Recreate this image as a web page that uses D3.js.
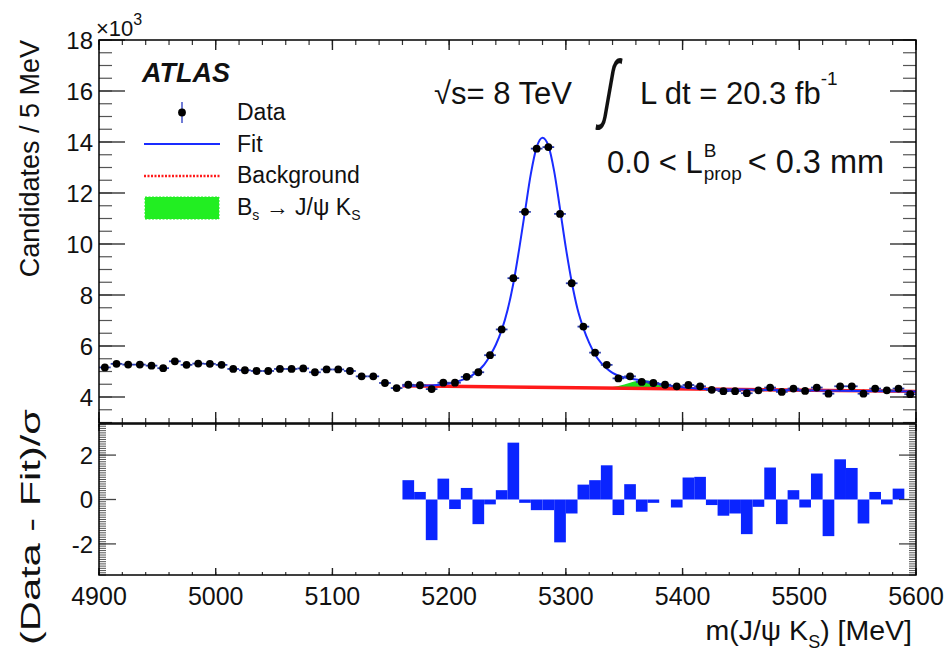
<!DOCTYPE html>
<html>
<head>
<meta charset="utf-8">
<script src="https://cdn.jsdelivr.net/npm/d3@7"></script>
<style>
  body { margin: 0; background: #fff; }
  svg text { font-family: "Liberation Sans", Arial, Helvetica, sans-serif; fill: #111; }
</style>
</head>
<body>
<svg id="chart" width="950" height="659"></svg>
<script>
// ---- data -------------------------------------------------------------
// bin centres of m(J/psi K_S) [MeV]
const massBins = [
  4905, 4915, 4925, 4935, 4945, 4955, 4965, 4975, 4985, 4995,
  5005, 5015, 5025, 5035, 5045, 5055, 5065, 5075, 5085, 5095,
  5105, 5115, 5125, 5135, 5145, 5155, 5165, 5175, 5185, 5195,
  5205, 5215, 5225, 5235, 5245, 5255, 5265, 5275, 5285, 5295,
  5305, 5315, 5325, 5335, 5345, 5355, 5365, 5375, 5385, 5395,
  5405, 5415, 5425, 5435, 5445, 5455, 5465, 5475, 5485, 5495,
  5505, 5515, 5525, 5535, 5545, 5555, 5565, 5575, 5585, 5595
];
// candidates per bin [x10^3]
const candidates = [
  5.16, 5.30, 5.27, 5.27, 5.23, 5.13, 5.40, 5.26, 5.31, 5.30,
  5.26, 5.10, 5.05, 5.02, 5.02, 5.10, 5.10, 5.12, 4.97, 5.08,
  5.08, 5.02, 4.81, 4.81, 4.55, 4.35, 4.48, 4.46, 4.31, 4.56,
  4.56, 4.79, 4.97, 5.64, 6.65, 8.66, 11.26, 13.74, 13.80, 11.18,
  8.46, 6.76, 5.74, 5.26, 4.73, 4.81, 4.59, 4.55, 4.48, 4.42,
  4.47, 4.42, 4.28, 4.23, 4.23, 4.15, 4.26, 4.37, 4.20, 4.33,
  4.24, 4.37, 4.13, 4.42, 4.42, 4.13, 4.33, 4.26, 4.33, 4.11
];
const binHalfWidth = 5;

// pulls (Data - Fit)/sigma, 10 MeV bins starting at these lower edges
const pullEdges = [
  5160, 5170, 5180, 5190, 5200, 5210, 5220, 5230, 5240, 5250,
  5260, 5270, 5280, 5290, 5300, 5310, 5320, 5330, 5340, 5350,
  5360, 5370, 5380, 5390, 5400, 5410, 5420, 5430, 5440, 5450,
  5460, 5470, 5480, 5490, 5500, 5510, 5520, 5530, 5540, 5550,
  5560, 5570, 5580, 5590
];
const pulls = [
  0.87, 0.34, -1.83, 0.94, -0.43, 0.52, -1.11, -0.22, 0.42, 2.56,
  -0.15, -0.48, -0.48, -1.93, -0.63, 0.67, 0.87, 1.54, -0.70, 0.69,
  -0.55, -0.15, 0.00, -0.36, 0.99, 1.02, -0.25, -0.73, -0.63, -1.56,
  -0.33, 1.44, -1.11, 0.42, -0.36, 1.17, -1.65, 1.81, 1.42, -1.08,
  0.34, -0.22, 0.49, 0.00
];

// total fit curve [x10^3]
const fitMass = [
  5160, 5170, 5180, 5190, 5200, 5210, 5220, 5230, 5235, 5240,
  5245, 5250, 5255, 5260, 5265, 5270, 5275, 5280, 5285, 5290,
  5295, 5300, 5305, 5310, 5315, 5320, 5325, 5330, 5335, 5340,
  5345, 5350, 5360, 5370, 5380, 5390, 5400, 5410, 5420, 5450,
  5500, 5550, 5600
];
const fitValue = [
  4.44, 4.44, 4.45, 4.47, 4.53, 4.65, 4.86, 5.27, 5.62, 6.05,
  6.62, 7.40, 8.45, 9.80, 11.28, 12.75, 13.80, 14.17, 13.86, 12.85,
  11.38, 9.85, 8.52, 7.45, 6.70, 6.12, 5.67, 5.35, 5.12, 4.95,
  4.84, 4.77, 4.69, 4.60, 4.51, 4.44, 4.38, 4.34, 4.31, 4.29,
  4.26, 4.24, 4.22
];

// combinatorial background [x10^3]
const bkgMass = [5160, 5600];
const bkgValue = [4.44, 4.22];

// B_s -> J/psi K_S component on top of the background [x10^3]
const bsMass = [5335, 5345, 5355, 5362, 5367, 5372, 5380, 5390, 5400];
const bsValue = [0.00, 0.08, 0.22, 0.30, 0.32, 0.30, 0.20, 0.08, 0.00];

// axis ticks
const xTickValues = [4900, 5000, 5100, 5200, 5300, 5400, 5500, 5600];
const yTopTickValues = [4, 6, 8, 10, 12, 14, 16, 18];
const yBotTickValues = [-2, 0, 2];

// ---- layout -----------------------------------------------------------
const svg = d3.select("#chart");
const L = 99, R = 916;
const topT = 40, topB = 423;
const botT = 424, botB = 575;

const x = d3.scaleLinear().domain([4900, 5600]).range([L, R]);
const yTop = d3.scaleLinear().domain([3, 18]).range([topB - 0.5, topT]);
const yBot = d3.scaleLinear().domain([-3.4, 3.4]).range([botB, botT]);

const gTop = svg.append("g");
const gBot = svg.append("g");

// ---- tick helpers -----------------------------------------------------
function hTicks(g, vals, yPos, len, color, width) {
  g.selectAll(null).data(vals).enter().append("line")
    .attr("x1", d => x(d)).attr("x2", d => x(d))
    .attr("y1", yPos).attr("y2", yPos + len)
    .attr("stroke", color).attr("stroke-width", width);
}
function vTicks(g, scale, vals, xPos, len, color, width) {
  g.selectAll(null).data(vals).enter().append("line")
    .attr("x1", xPos).attr("x2", xPos + len)
    .attr("y1", d => scale(d)).attr("y2", d => scale(d))
    .attr("stroke", color).attr("stroke-width", width);
}

const xMinor = d3.range(4900, 5600.1, 20);
const yTopMinor = d3.range(3, 18.01, 0.5);
const yBotMinor = d3.range(-3.4, 3.41, 0.1);

// ---- top panel --------------------------------------------------------
vTicks(gTop, yTop, yTopMinor, L, 13, "#555", 1.2);
vTicks(gTop, yTop, yTopTickValues, L, 26, "#333", 1.4);
vTicks(gTop, yTop, yTopMinor, R, -13, "#555", 1.2);
vTicks(gTop, yTop, yTopTickValues, R, -26, "#333", 1.4);
hTicks(gTop, xMinor, topT, 5, "#333", 1.2);
hTicks(gTop, xTickValues, topT, 10, "#222", 1.4);
hTicks(gTop, xMinor, topB, -5, "#333", 1.2);
hTicks(gTop, xTickValues, topB, -11, "#222", 1.4);

// B_s component
const bkgAt = m => d3.scaleLinear().domain(bkgMass).range(bkgValue)(m);
gTop.append("path")
  .datum(bsMass.map((m, i) => ({ m, v: bsValue[i] })))
  .attr("fill", "#1fe01f")
  .attr("d", d3.area()
    .x(d => x(d.m))
    .y0(d => yTop(bkgAt(d.m)))
    .y1(d => yTop(bkgAt(d.m) + d.v))
    .curve(d3.curveMonotoneX));

// background
gTop.append("path")
  .datum(bkgMass.map((m, i) => ({ m, v: bkgValue[i] })))
  .attr("fill", "none").attr("stroke", "#ff1a1a").attr("stroke-width", 3.4)
  .attr("d", d3.line().x(d => x(d.m)).y(d => yTop(d.v)));

// total fit
gTop.append("path")
  .datum(fitMass.map((m, i) => ({ m, v: fitValue[i] })))
  .attr("fill", "none").attr("stroke", "#1a2cff").attr("stroke-width", 2)
  .attr("d", d3.line().x(d => x(d.m)).y(d => yTop(d.v)).curve(d3.curveMonotoneX));

// data points with bin-width and statistical error bars
const pts = massBins.map((m, i) => ({ m, v: candidates[i], e: Math.sqrt(candidates[i] * 1000) / 1000 }));
gTop.selectAll(".hbar").data(pts).enter().append("line")
  .attr("x1", d => x(d.m - binHalfWidth)).attr("x2", d => x(d.m + binHalfWidth))
  .attr("y1", d => yTop(d.v)).attr("y2", d => yTop(d.v))
  .attr("stroke", "#2a3cb0").attr("stroke-width", 1.8);
gTop.selectAll(".vbar").data(pts).enter().append("line")
  .attr("x1", d => x(d.m)).attr("x2", d => x(d.m))
  .attr("y1", d => yTop(d.v - d.e)).attr("y2", d => yTop(d.v + d.e))
  .attr("stroke", "#111").attr("stroke-width", 1.5);
gTop.selectAll(".dot").data(pts).enter().append("circle")
  .attr("cx", d => x(d.m)).attr("cy", d => yTop(d.v)).attr("r", 3.9)
  .attr("fill", "#000");

gTop.append("rect").attr("x", L).attr("y", topT).attr("width", R - L).attr("height", topB - topT)
  .attr("fill", "none").attr("stroke", "#000").attr("stroke-width", 1.5);

// y tick labels
gTop.selectAll(".ylab").data(yTopTickValues).enter().append("text")
  .attr("x", L - 6).attr("y", d => yTop(d)).attr("dy", "0.36em")
  .attr("text-anchor", "end").attr("font-size", 24).text(d => d);
const mult = gTop.append("text").attr("x", L - 3).attr("y", 36).attr("font-size", 22);
mult.append("tspan").text("×10");
mult.append("tspan").attr("dy", -11).attr("font-size", 16).text("3");

gTop.append("text")
  .attr("transform", `translate(39,${topT}) rotate(-90)`)
  .attr("text-anchor", "end").attr("font-size", 27)
  .text("Candidates / 5 MeV");

// ATLAS label and legend
gTop.append("text").attr("x", 142).attr("y", 82).attr("font-size", 27)
  .attr("font-weight", "bold").attr("font-style", "italic").text("ATLAS");

const lg = gTop.append("g");
lg.append("line").attr("x1", 182).attr("x2", 182).attr("y1", 102).attr("y2", 123)
  .attr("stroke", "#4050c8").attr("stroke-width", 1.5);
lg.append("circle").attr("cx", 182).attr("cy", 112.5).attr("r", 3.9).attr("fill", "#000");
lg.append("line").attr("x1", 144).attr("x2", 220).attr("y1", 144).attr("y2", 144)
  .attr("stroke", "#1a2cff").attr("stroke-width", 2);
lg.append("line").attr("x1", 144).attr("x2", 220).attr("y1", 176).attr("y2", 176)
  .attr("stroke", "#ff1a1a").attr("stroke-width", 2.5).attr("stroke-dasharray", "2,1.5");
lg.append("rect").attr("x", 145).attr("y", 197).attr("width", 74).attr("height", 22)
  .attr("fill", "#22ee22").attr("stroke", "#22ee22").attr("stroke-dasharray", "2,1.5");
const legendText = [["Data", 120], ["Fit", 152], ["Background", 183]];
lg.selectAll(".lt").data(legendText).enter().append("text")
  .attr("x", 237).attr("y", d => d[1]).attr("font-size", 23).text(d => d[0]);
const bsT = lg.append("text").attr("x", 237).attr("y", 215).attr("font-size", 23);
bsT.append("tspan").text("B");
bsT.append("tspan").attr("dy", 5).attr("font-size", 14).text("s");
bsT.append("tspan").attr("dy", -5).text(" → J/ψ K");
bsT.append("tspan").attr("dy", 5).attr("font-size", 14).text("S");

// energy, luminosity and selection text
gTop.append("text").attr("x", 434).attr("y", 104).attr("font-size", 31).text("√s= 8 TeV");
gTop.append("text").attr("transform", "translate(612,91) skewX(-10) scale(1,1.9)")
  .attr("x", -8).attr("y", 12).attr("font-size", 40)
  .attr("font-family", "DejaVu Sans").text("∫");
const lum = gTop.append("text").attr("x", 640).attr("y", 104).attr("font-size", 31);
lum.append("tspan").text("L dt = 20.3 fb");
lum.append("tspan").attr("dy", -19).attr("font-size", 19).text("-1");

const selX = 607, selY = 173;
const sel1 = gTop.append("text").attr("x", selX).attr("y", selY).attr("font-size", 31).text("0.0 < L");
const w1 = sel1.node().getComputedTextLength();
const supB = gTop.append("text").attr("x", selX + w1 + 1).attr("y", selY - 16).attr("font-size", 19).text("B");
const subP = gTop.append("text").attr("x", selX + w1 + 1).attr("y", selY + 7).attr("font-size", 19).text("prop");
const w2 = Math.max(supB.node().getComputedTextLength(), subP.node().getComputedTextLength());
gTop.append("text").attr("x", selX + w1 + w2 + 7).attr("y", selY)
  .attr("font-size", 32.5).text("< 0.3 mm");

// ---- pull panel -------------------------------------------------------
gBot.selectAll(".pull").data(pullEdges.map((e, i) => ({ e, v: pulls[i] }))).enter().append("rect")
  .attr("x", d => x(d.e)).attr("width", d => x(d.e + 10) - x(d.e))
  .attr("y", d => yBot(Math.max(0, d.v)))
  .attr("height", d => Math.abs(yBot(d.v) - yBot(0)))
  .attr("fill", "#0a24ff");

vTicks(gBot, yBot, yBotMinor, L, 7, "#555", 1);
vTicks(gBot, yBot, yBotTickValues, L, 17, "#444", 1.3);
vTicks(gBot, yBot, yBotMinor, R, -7, "#555", 1);
vTicks(gBot, yBot, yBotTickValues, R, -17, "#444", 1.3);
hTicks(gBot, xMinor, botT, 3, "#333", 1.2);
hTicks(gBot, xTickValues, botT, 7, "#222", 1.4);
hTicks(gBot, xMinor, botB, -3, "#333", 1.2);
hTicks(gBot, xTickValues, botB, -7, "#222", 1.4);

gBot.append("rect").attr("x", L).attr("y", botT).attr("width", R - L).attr("height", botB - botT)
  .attr("fill", "none").attr("stroke", "#000").attr("stroke-width", 1.5);

gBot.selectAll(".ylab").data(yBotTickValues).enter().append("text")
  .attr("x", L - 6).attr("y", d => yBot(d)).attr("dy", "0.36em")
  .attr("text-anchor", "end").attr("font-size", 24).text(d => d < 0 ? "-" + Math.abs(d) : d);

gBot.append("text")
  .attr("transform", `translate(40,527) rotate(-90)`)
  .attr("text-anchor", "middle").attr("font-size", 27)
  .attr("textLength", 236).attr("lengthAdjust", "spacingAndGlyphs")
  .text("(Data - Fit)/σ");

gBot.selectAll(".xlab").data(xTickValues).enter().append("text")
  .attr("x", d => x(d)).attr("y", 605).attr("text-anchor", "middle")
  .attr("font-size", 25).text(d => d);

const xt = gBot.append("text").attr("x", 912).attr("y", 640).attr("text-anchor", "end").attr("font-size", 28.5);
xt.append("tspan").text("m(J/ψ K");
xt.append("tspan").attr("dy", 8).attr("font-size", 18).text("S");
xt.append("tspan").attr("dy", -8).text(") [MeV]");
</script>
</body>
</html>
